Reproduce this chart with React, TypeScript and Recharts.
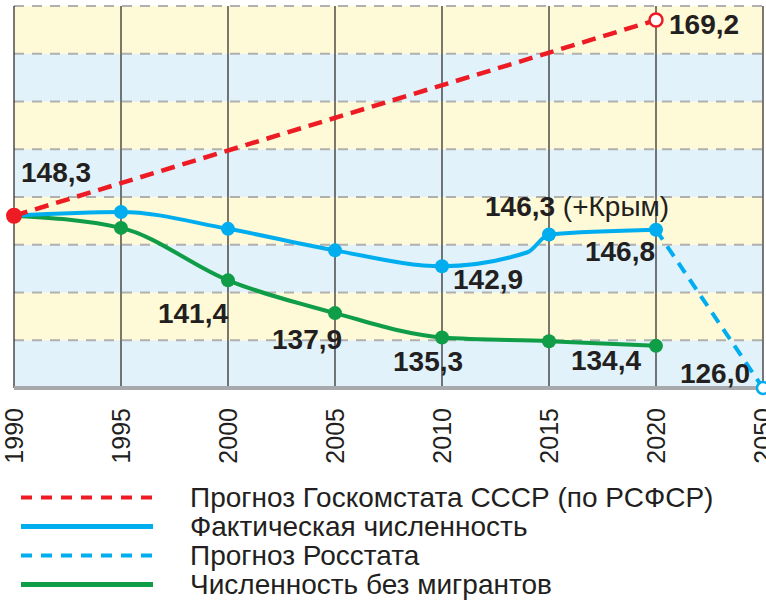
import {
  LineChart,
  Line,
  XAxis,
  YAxis,
  LabelList,
  Legend,
  ReferenceArea,
  ReferenceLine,
} from "recharts";

// categories on the x axis (2050 is squeezed in like another 5-year step)
const axisYears = [1990, 1995, 2000, 2005, 2010, 2015, 2020, 2050];

// Прогноз Госкомстата СССР (по РСФСР)
const gksYears = [1990, 2020];
const gksValues = [148.3, 169.2];
const gksLabels = ["148,3", "169,2"];

// Фактическая численность (2014 — ещё без Крыма)
const actualYears = [1990, 1995, 2000, 2005, 2010, 2014, 2015, 2020];
const actualValues = [148.3, 148.7, 146.9, 144.6, 142.9, 144.4, 146.3, 146.8];
const actualLabels = [null, null, null, null, "142,9", null, "146,3", "146,8"];
const actualNotes = [null, null, null, null, null, null, "(+Крым)", null];

// Прогноз Росстата
const rosstatYears = [2020, 2050];
const rosstatValues = [146.8, 126.0];
const rosstatLabels = [null, "126,0"];

// Численность без мигрантов
const nativeYears = [1990, 1995, 2000, 2005, 2010, 2015, 2020];
const nativeValues = [148.3, 147.0, 141.4, 137.9, 135.3, 134.9, 134.4];
const nativeLabels = [null, null, "141,4", "137,9", "135,3", null, "134,4"];

const legendNames = [
  "Прогноз Госкомстата СССР (по РСФСР)",
  "Фактическая численность",
  "Прогноз Росстата",
  "Численность без мигрантов",
];

const RED = "#ed1c24";
const BLUE = "#00aeef";
const GREEN = "#0f9d48";
const INK = "#231f20";
const FONT = "'Liberation Sans', Arial, Helvetica, sans-serif";
const BAND_COLORS = ["#e1f2fa", "#fef9d7"];

const popDomain = [129.9, 170.7];
// Rosstat forecast gets its own axis so that the 2050 point sits on the baseline
const rosstatDomain = [
  126,
  126 +
    ((146.8 - 126) * (popDomain[1] - popDomain[0])) / (146.8 - popDomain[0]),
];

// background: 8 equal stripes over the plot
const bandCount = 8;
const bandEdges = Array.from(
  { length: bandCount + 1 },
  (_, k) => popDomain[0] + (k * (popDomain[1] - popDomain[0])) / bandCount
);

// year -> position on the category axis
const toPos = (year: number) => {
  for (let i = 0; i < axisYears.length - 1; i++) {
    if (year <= axisYears[i + 1]) {
      return i + (year - axisYears[i]) / (axisYears[i + 1] - axisYears[i]);
    }
  }
  return axisYears.length - 1;
};

const build = (
  years: number[],
  values: number[],
  labels: (string | null)[],
  notes?: (string | null)[]
) =>
  years.map((y, i) => ({
    pos: toPos(y),
    year: y,
    value: values[i],
    label: labels[i],
    note: notes ? notes[i] : null,
  }));

const gksData = build(gksYears, gksValues, gksLabels);
const actualData = build(actualYears, actualValues, actualLabels, actualNotes);
const rosstatData = build(rosstatYears, rosstatValues, rosstatLabels);
const nativeData = build(nativeYears, nativeValues, nativeLabels);

type Place = { dx: number; dy: number; anchor: "start" | "middle" | "end" };

const gksPlace: Record<number, Place> = {
  0: { dx: 7, dy: -34, anchor: "start" },
  1: { dx: 13, dy: 14, anchor: "start" },
};
const actualPlace: Record<number, Place> = {
  4: { dx: 11, dy: 23, anchor: "start" },
  6: { dx: -64, dy: -18, anchor: "start" },
  7: { dx: -1, dy: 31, anchor: "end" },
};
const rosstatPlace: Record<number, Place> = {
  1: { dx: -13, dy: -5, anchor: "end" },
};
const nativePlace: Record<number, Place> = {
  2: { dx: 0, dy: 43, anchor: "end" },
  3: { dx: -63, dy: 36, anchor: "start" },
  4: { dx: -49, dy: 34, anchor: "start" },
  6: { dx: -15, dy: 24, anchor: "end" },
};

const makeLabel =
  (data: { note: string | null }[], place: Record<number, Place>) =>
  (props: any) => {
    const { x, y, value, index } = props;
    const p = place[index];
    if (!value || !p) return null;
    const note = data[index]?.note;
    return (
      <text
        key={`lbl-${index}`}
        x={x + p.dx}
        y={y + p.dy}
        textAnchor={p.anchor}
        fontFamily={FONT}
        fontSize={28}
        fontWeight={700}
        fill={INK}
      >
        {value}
        {note && <tspan fontWeight={400}>{" " + note}</tspan>}
      </text>
    );
  };

const YearTick = (props: any) => {
  const { x, y, payload } = props;
  return (
    <text
      x={x}
      y={y}
      transform={`rotate(-90 ${x} ${y})`}
      textAnchor="end"
      dy="0.35em"
      fontFamily={FONT}
      fontSize={25}
      fill={INK}
    >
      {axisYears[payload.value]}
    </text>
  );
};

const legendStyles = [
  { color: RED, width: 4, dash: "11 9" },
  { color: BLUE, width: 5, dash: undefined },
  { color: BLUE, width: 4, dash: "11 9" },
  { color: GREEN, width: 5, dash: undefined },
];

const ChartLegend = () => (
  <div style={{ fontFamily: FONT }}>
    {legendNames.map((name, i) => (
      <div
        key={name}
        style={{ display: "flex", alignItems: "center", height: 29 }}
      >
        <svg width={190} height={29}>
          <line
            x1={21}
            x2={153}
            y1={14.5}
            y2={14.5}
            stroke={legendStyles[i].color}
            strokeWidth={legendStyles[i].width}
            strokeDasharray={legendStyles[i].dash}
          />
        </svg>
        <span style={{ fontSize: 28, lineHeight: "29px", color: INK }}>
          {name}
        </span>
      </div>
    ))}
  </div>
);

export default function App() {
  return (
    <div style={{ position: "absolute", left: 0, top: 0, background: "#fff" }}>
      <LineChart
        width={766}
        height={600}
        margin={{ top: 6, right: 3, bottom: 132, left: 14 }}
      >
        <XAxis
          type="number"
          dataKey="pos"
          domain={[0, axisYears.length - 1]}
          ticks={axisYears.map((_, i) => i)}
          interval={0}
          tick={YearTick}
          tickLine={false}
          tickSize={0}
          tickMargin={20}
          height={80}
          axisLine={{ stroke: "#a7a9ac", strokeWidth: 4 }}
        />
        <YAxis yAxisId="pop" hide domain={popDomain} allowDataOverflow />
        <YAxis yAxisId="rosstat" hide domain={rosstatDomain} />

        {bandEdges.slice(0, -1).map((lo, k) => (
          <ReferenceArea
            key={`band-${k}`}
            yAxisId="pop"
            y1={lo}
            y2={bandEdges[k + 1]}
            fill={BAND_COLORS[k % 2]}
            fillOpacity={1}
            stroke="none"
            ifOverflow="visible"
          />
        ))}
        {bandEdges.slice(1).map((v, k) => (
          <ReferenceLine
            key={`hl-${k}`}
            yAxisId="pop"
            y={v}
            stroke="#b0b0b0"
            strokeWidth={2}
            strokeDasharray="10 8"
            ifOverflow="visible"
          />
        ))}
        {axisYears.map((_, i) => (
          <ReferenceLine
            key={`vl-${i}`}
            yAxisId="pop"
            x={i}
            stroke={INK}
            strokeWidth={1.2}
            ifOverflow="visible"
          />
        ))}

        <Line
          yAxisId="pop"
          data={nativeData}
          dataKey="value"
          type="monotone"
          stroke={GREEN}
          strokeWidth={4}
          dot={(p: any) => (
            <circle key={`n-${p.index}`} cx={p.cx} cy={p.cy} r={7} fill={GREEN} />
          )}
          activeDot={false}
          isAnimationActive={false}
        >
          <LabelList dataKey="label" content={makeLabel(nativeData, nativePlace)} />
        </Line>
        <Line
          yAxisId="pop"
          data={actualData}
          dataKey="value"
          type="monotone"
          stroke={BLUE}
          strokeWidth={4}
          dot={(p: any) =>
            axisYears.includes(p.payload.year) ? (
              <circle key={`a-${p.index}`} cx={p.cx} cy={p.cy} r={7} fill={BLUE} />
            ) : (
              <g key={`a-${p.index}`} />
            )
          }
          activeDot={false}
          isAnimationActive={false}
        >
          <LabelList dataKey="label" content={makeLabel(actualData, actualPlace)} />
        </Line>
        <Line
          yAxisId="rosstat"
          data={rosstatData}
          dataKey="value"
          type="linear"
          stroke={BLUE}
          strokeWidth={4}
          strokeDasharray="12 8"
          dot={(p: any) =>
            p.index === rosstatData.length - 1 ? (
              <circle
                key={`r-${p.index}`}
                cx={p.cx}
                cy={p.cy}
                r={6}
                fill="#fff"
                stroke={BLUE}
                strokeWidth={2.5}
              />
            ) : (
              <g key={`r-${p.index}`} />
            )
          }
          activeDot={false}
          isAnimationActive={false}
        >
          <LabelList dataKey="label" content={makeLabel(rosstatData, rosstatPlace)} />
        </Line>
        <Line
          yAxisId="pop"
          data={gksData}
          dataKey="value"
          type="linear"
          stroke={RED}
          strokeWidth={4.5}
          strokeDasharray="14 8"
          dot={(p: any) =>
            p.index === 0 ? (
              <circle key={`g-${p.index}`} cx={p.cx} cy={p.cy} r={8} fill={RED} />
            ) : (
              <circle
                key={`g-${p.index}`}
                cx={p.cx}
                cy={p.cy}
                r={6.5}
                fill="#fff"
                stroke={RED}
                strokeWidth={2.5}
              />
            )
          }
          activeDot={false}
          isAnimationActive={false}
        >
          <LabelList dataKey="label" content={makeLabel(gksData, gksPlace)} />
        </Line>

        <Legend
          layout="horizontal"
          verticalAlign="middle"
          align="center"
          content={<ChartLegend />}
          wrapperStyle={{ top: 483, left: 0, width: 766 }}
        />
      </LineChart>
    </div>
  );
}
